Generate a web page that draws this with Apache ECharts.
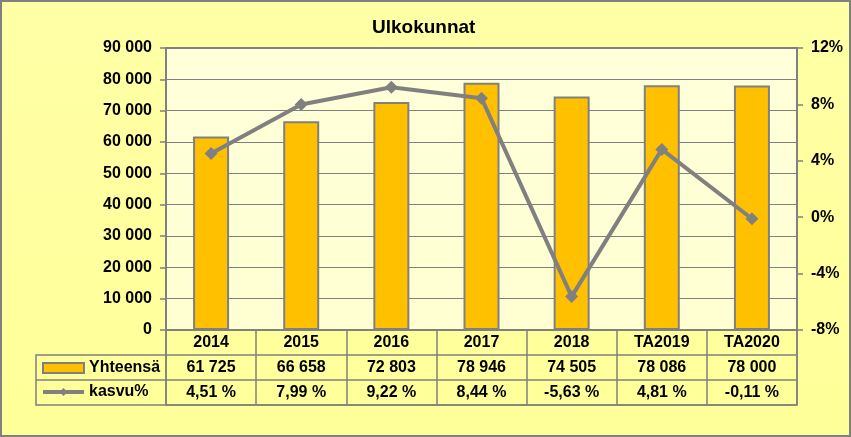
<!DOCTYPE html>
<html><head><meta charset="utf-8">
<script src="https://cdn.jsdelivr.net/npm/echarts@6/dist/echarts.min.js"></script>
<style>html,body{margin:0;padding:0;background:#FFFF99;}#c{width:851px;height:437px;}</style>
</head><body><div id="c"></div>
<script>
const categories = ['2014','2015','2016','2017','2018','TA2019','TA2020'];
const totals = [61725, 66658, 72803, 78946, 74505, 78086, 78000];
const growth = [4.51, 7.99, 9.22, 8.44, -5.63, 4.81, -0.11];
const seriesNames = ['Yhteensä', 'kasvu%'];

const fmtThousands = v => String(v).replace(/\B(?=(\d{3})+(?!\d))/g, ' ');
const fmtPct = v => v.toFixed(2).replace('.', ',') + ' %';
const GRAY = '#808080';
const FONT = 'Liberation Sans';
const lbl = {color:'#000', fontFamily:FONT, fontWeight:'bold', fontSize:16};

const chart = echarts.init(document.getElementById('c'), null, {renderer:'canvas'});
chart.setOption({
  backgroundColor: {type:'linear', x:0, y:0, x2:0, y2:1, colorStops:[{offset:0,color:'#FFFFA6'},{offset:1,color:'#FFFF99'}]},
  animation: false,
  title: {text:'Ulkokunnat', left:367, top:13, textStyle:{color:'#000', fontFamily:FONT, fontWeight:'bold', fontSize:19}},
  legend: {
    data: [
      {name:seriesNames[0], icon:'rect'},
      {name:seriesNames[1], lineStyle:{width:4, color:GRAY}}
    ],
    orient:'vertical', left:41, top:360, itemWidth:41, itemHeight:10, itemGap:8,
    textStyle: lbl, selectedMode:false, padding:0
  },
  grid: [
    {left:166, right:54, top:48, bottom:107, show:true, borderColor:GRAY, borderWidth:2,
     backgroundColor:{type:'linear', x:0, y:0, x2:0, y2:1, colorStops:[{offset:0,color:'#FFFFDA'},{offset:1,color:'#FFFFD2'}]}},
    {left:166, right:54, top:330, height:75, show:true, borderColor:GRAY, borderWidth:1.5, backgroundColor:'transparent'}
  ],
  xAxis: [
    {gridIndex:0, type:'category', data:categories, position:'bottom',
     axisLine:{show:true, lineStyle:{color:GRAY, width:2}}, axisTick:{show:false},
     axisLabel:Object.assign({margin:5}, lbl)},
    {gridIndex:0, type:'category', data:totals.map(fmtThousands), position:'bottom', offset:25,
     axisLine:{show:false}, axisTick:{show:false}, axisLabel:Object.assign({margin:5}, lbl)},
    {gridIndex:0, type:'category', data:growth.map(fmtPct), position:'bottom', offset:50,
     axisLine:{show:false}, axisTick:{show:false}, axisLabel:Object.assign({margin:5}, lbl)},
    {gridIndex:1, type:'category', data:categories, axisLine:{show:false}, axisTick:{show:false},
     axisLabel:{show:false}, splitLine:{show:true, lineStyle:{color:GRAY, width:1.5}}}
  ],
  yAxis: [
    {gridIndex:0, type:'value', min:0, max:90000, interval:10000,
     axisLine:{show:true, lineStyle:{color:GRAY, width:2}},
     axisTick:{show:true, length:6, lineStyle:{color:GRAY, width:1.5}},
     splitLine:{show:true, lineStyle:{color:GRAY, width:1.2}},
     axisLabel:Object.assign({margin:14, formatter:v => fmtThousands(v)}, lbl)},
    {gridIndex:0, type:'value', min:-8, max:12, interval:4, position:'right',
     axisLine:{show:true, lineStyle:{color:GRAY, width:2}},
     axisTick:{show:true, length:6, lineStyle:{color:GRAY, width:1.5}},
     splitLine:{show:false},
     axisLabel:Object.assign({margin:14, formatter:'{value}%'}, lbl)},
    {gridIndex:1, type:'value', min:0, max:3, interval:1, axisLine:{show:false}, axisTick:{show:false},
     axisLabel:{show:false}, splitLine:{show:true, lineStyle:{color:GRAY, width:1.5}}}
  ],
  graphic: [
    {type:'polyline', shape:{points:[[166,355],[36,355],[36,405],[166,405]]}, style:{stroke:GRAY, lineWidth:1.5, fill:null}, silent:true},
    {type:'line', shape:{x1:36, y1:380, x2:166, y2:380}, style:{stroke:GRAY, lineWidth:1.5}, silent:true},
    {type:'rect', shape:{x:1, y:1, width:849, height:435}, style:{stroke:GRAY, lineWidth:2, fill:null}, silent:true}
  ],
  series: [
    {name:seriesNames[0], type:'bar', xAxisIndex:0, yAxisIndex:0, data:totals, barWidth:36,
     itemStyle:{color:'#FFC000', borderColor:GRAY, borderWidth:2}},
    {name:seriesNames[1], type:'line', xAxisIndex:0, yAxisIndex:1, data:growth,
     symbol:'diamond', symbolSize:13, lineStyle:{color:GRAY, width:4}, itemStyle:{color:GRAY}}
  ]
});
</script></body></html>
